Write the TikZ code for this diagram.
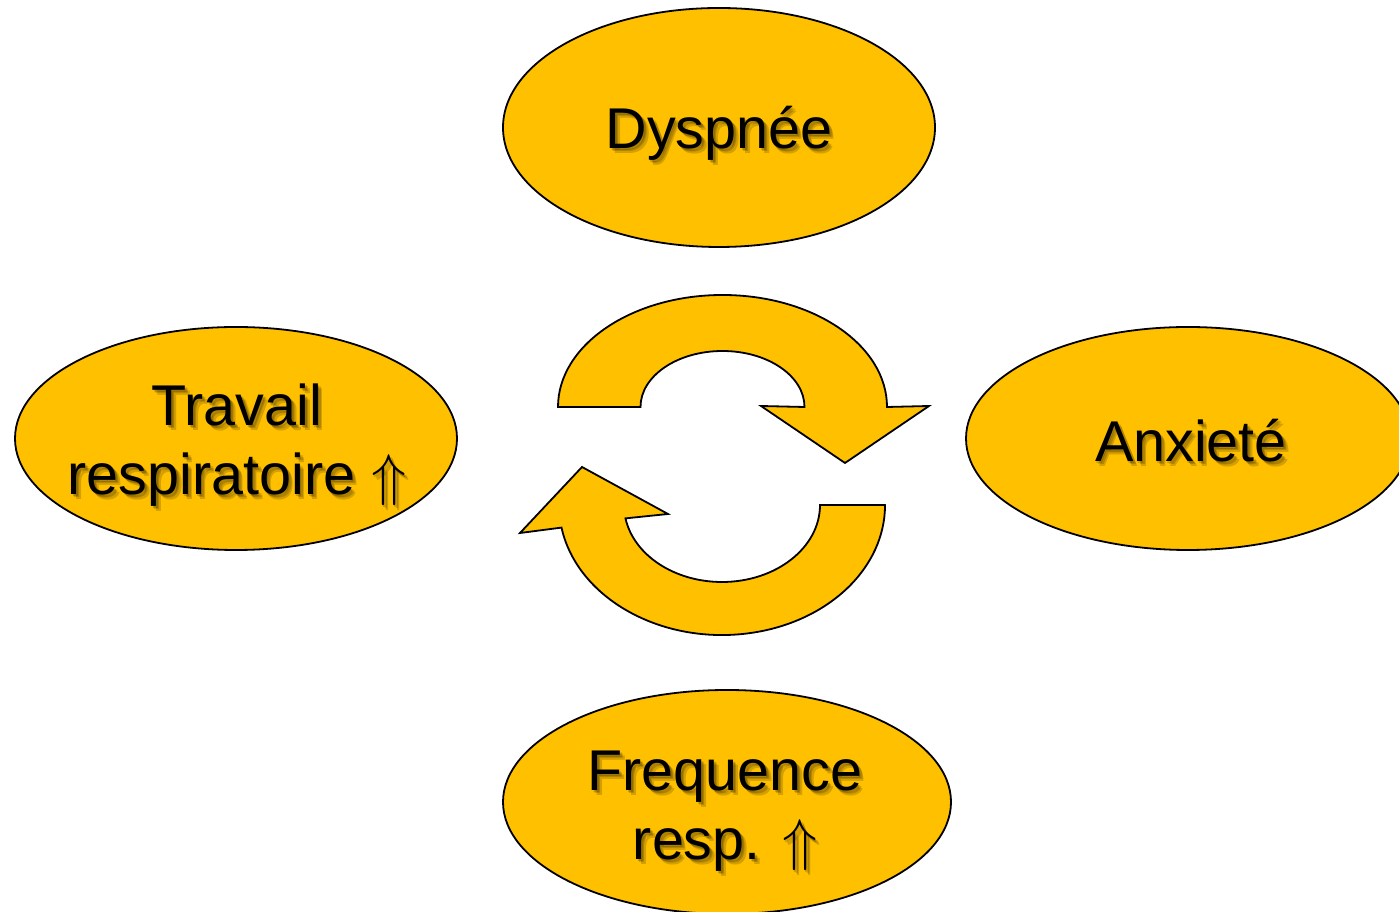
\RequirePackage{fix-cm}
\documentclass[tikz,border=0pt]{standalone}
\usepackage{fontspec}
\setmainfont{Liberation Sans}
\usetikzlibrary{shapes.geometric,calc}

\definecolor{gold}{HTML}{FFC000}
\newcommand\bubblefont{\fontsize{57.5}{69}\selectfont}

% text with a soft drop shadow under it
\newcommand\shadowlabel[3]{%
  \node[shade] at ($(#1)+(#2)+(1.5,-1.5)$) {#3};
  \node[shade] at ($(#1)+(#2)+(3,-3)$) {#3};
  \node[shade] at ($(#1)+(#2)+(4.5,-4.5)$) {#3};
  \node[caption] (#1-text) at ($(#1)+(#2)$) {#3};}

\begin{document}
\begin{tikzpicture}[x=1pt,y=1pt]
  \tikzset{
    bubble/.style={ellipse, draw=black, line width=1.8pt, fill=gold, inner sep=0pt},
    caption/.style={font=\bubblefont, align=center, anchor=base, inner sep=0pt},
    shade/.style={caption, text=black, text opacity=.17},
    cyclearrow/.style={draw=black, line width=1.8pt, fill=gold, line join=miter}
  }
  \useasboundingbox (0,0) rectangle (1399,912);
  \clip (0,0) rectangle (1399,912);

  % the four states
  \node[bubble, minimum width=432pt, minimum height=239pt] (dyspnee) at (719,784.5) {};
  \node[bubble, minimum width=442pt, minimum height=223pt] (travail) at (236,473.5) {};
  \node[bubble, minimum width=444pt, minimum height=223pt] (anxiete) at (1188,473.5) {};
  \node[bubble, minimum width=448pt, minimum height=224pt] (frequence) at (727,110) {};

  % (base of a two-line label is its last line)
  \shadowlabel{dyspnee}{0,-21.5}{Dyspnée}
  \shadowlabel{travail}{1,-56.5}{Travail\\respiratoire $\Uparrow$}
  \shadowlabel{anxiete}{3,-23.5}{Anxieté}
  \shadowlabel{frequence}{-2,-58}{Frequence\\resp. $\Uparrow$}

  % circular arrows in the middle
  \draw[cyclearrow] (558,505)
    arc[start angle=180, end angle=0, x radius=164.5pt, y radius=112pt]
    -- (929,506) -- (845,449) -- (761,506) -- (804.5,505)
    arc[start angle=0, end angle=180, x radius=82pt, y radius=56pt] -- cycle;
  \draw[cyclearrow] (885,407) -- (820,407)
    arc[start angle=0, end angle=-170, x radius=98pt, y radius=77pt]
    -- (668,398) -- (582,445) -- (520,379) -- (561.5,384.4)
    arc[start angle=-170, end angle=0, x radius=163pt, y radius=130pt] -- cycle;
\end{tikzpicture}
\end{document}
